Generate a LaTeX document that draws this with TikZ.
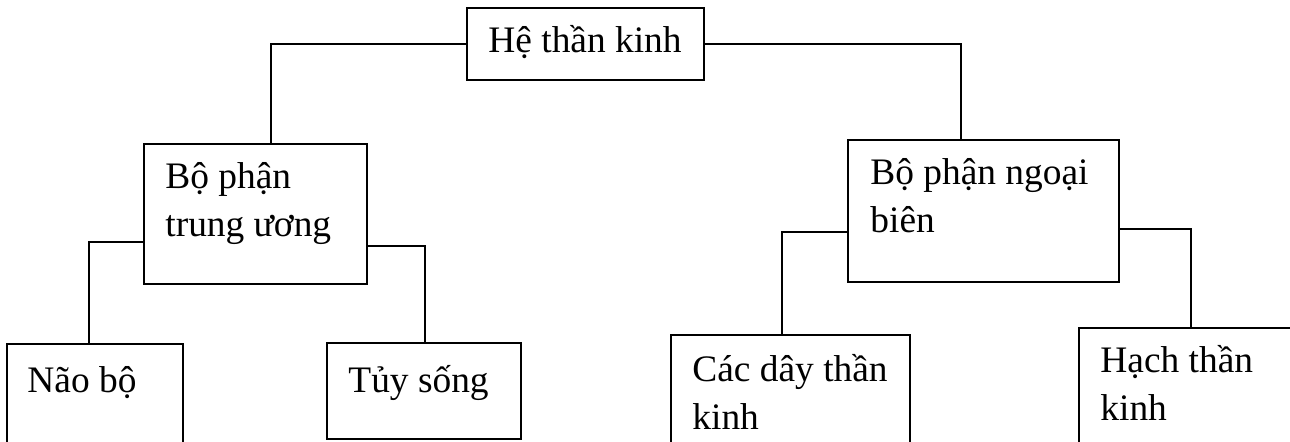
\documentclass[tikz,border=0pt]{standalone}
\usepackage{fontspec}
\setmainfont{Liberation Serif}
\begin{document}
\begin{tikzpicture}[x=0.5pt,y=-0.5pt,
    box/.style={draw,line width=1pt,rectangle,inner sep=0pt,outer sep=0pt,anchor=north west},
    boxtext/.style={anchor=base west,inner sep=0pt,align=left,font=\fontsize{18.7}{24}\selectfont},
    link/.style={line width=1pt}]
  \useasboundingbox (0,0) rectangle (1290,442);
  \clip (0,0) rectangle (1290,442);

  % Top box
  \node [box,minimum width=118.5pt,minimum height=36pt] (top) at (467,8) {};
  \node [boxtext] (top-t) at (488,53) {Hệ thần kinh};

  % Second row boxes (two-line texts sit on their last line)
  \node [box,minimum width=111.5pt,minimum height=70pt] (cen) at (144,144) {};
  \node [boxtext] (cen-t) at (165,237) {Bộ phận\\trung ương};
  \node [box,minimum width=135.5pt,minimum height=71pt] (ngb) at (848,140) {};
  \node [boxtext] (ngb-t) at (870,233) {Bộ phận ngoại\\biên};

  % Bottom row boxes (cut by the frame)
  \node [box,minimum width=88pt,minimum height=70pt] (nao) at (7,344) {};
  \node [boxtext] (nao-t) at (27,393) {Não bộ};
  \node [box,minimum width=97pt,minimum height=48pt] (tuy) at (327,343) {};
  \node [boxtext] (tuy-t) at (348,393) {Tủy sống};
  \node [box,minimum width=119.5pt,minimum height=70pt] (cdtk) at (671,335) {};
  \node [boxtext] (cdtk-t) at (692,430) {Các dây thần\\kinh};
  \node [box,minimum width=120pt,minimum height=70pt] (hach) at (1079,328) {};
  \node [boxtext] (hach-t) at (1100,421) {Hạch thần\\kinh};

  % Elbow points
  \coordinate (kL) at (271,43);
  \coordinate (kR) at (961,43);
  \coordinate (kNao) at (89,242);
  \coordinate (kTuy) at (425,246);
  \coordinate (kCdtk) at (782,232);
  \coordinate (kHach) at (1191,229);

  % Connectors
  \draw [link] (top.west) -| (cen.north -| kL);
  \draw [link] (top.east) -| (ngb.north -| kR);
  \draw [link] (cen.west |- kNao) -| (nao.north -| kNao);
  \draw [link] (cen.east |- kTuy) -| (tuy.north -| kTuy);
  \draw [link] (ngb.west |- kCdtk) -| (cdtk.north -| kCdtk);
  \draw [link] (ngb.east |- kHach) -| (hach.north -| kHach);
\end{tikzpicture}
\end{document}
